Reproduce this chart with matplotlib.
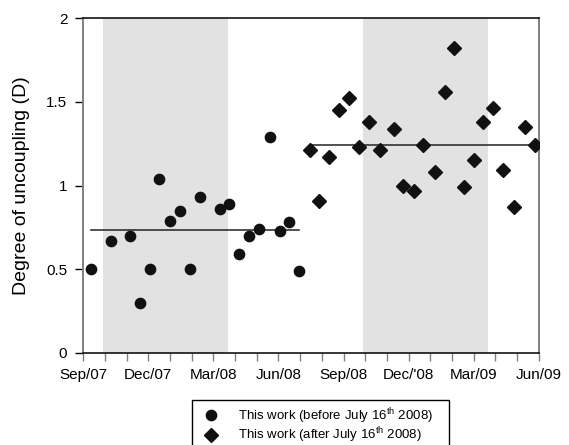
import matplotlib
matplotlib.use("Agg")
import matplotlib.pyplot as plt
from matplotlib.patches import Rectangle
from matplotlib.lines import Line2D

plt.rcParams['font.family'] = ['Liberation Sans', 'DejaVu Sans']
plt.rcParams['mathtext.fontset'] = 'custom'
plt.rcParams['mathtext.rm'] = 'Liberation Sans'

# time axis: months elapsed since 1 Sep 2007
month_ticks = list(range(22))
label_ticks = [0, 3, 6, 9, 12, 15, 18, 21]
month_labels = ["Sep/07", "Dec/07", "Mar/08", "Jun/08",
                "Sep/08", "Dec/'08", "Mar/09", "Jun/09"]

# degree of uncoupling before 16 July 2008
before_t = [0.34, 1.29, 2.15, 2.63, 3.09, 3.50, 4.01, 4.44, 4.90, 5.38,
            6.30, 6.72, 7.18, 7.65, 8.11, 8.59, 9.07, 9.48, 9.94]
before_d = [0.50, 0.67, 0.70, 0.30, 0.50, 1.04, 0.79, 0.85, 0.50, 0.93,
            0.86, 0.89, 0.59, 0.70, 0.74, 1.29, 0.73, 0.78, 0.49]

# degree of uncoupling after 16 July 2008
after_t = [10.45, 10.88, 11.33, 11.80, 12.26, 12.70, 13.16, 13.68, 14.32,
           14.74, 15.26, 15.68, 16.20, 16.66, 17.08, 17.54, 18.01, 18.43,
           18.89, 19.35, 19.84, 20.35, 20.83]
after_d = [1.21, 0.91, 1.17, 1.45, 1.52, 1.23, 1.38, 1.21, 1.34,
           1.00, 0.97, 1.24, 1.08, 1.56, 1.82, 0.99, 1.15, 1.38,
           1.46, 1.09, 0.87, 1.35, 1.24]

# period means
before_mean = 0.734
after_mean = 1.244

# shaded cold seasons (months since Sep 2007)
winter_spans = [(0.91, 6.65), (12.88, 18.64)]

W, H = 569, 445
fig = plt.figure(figsize=(W / 100, H / 100), dpi=100)
ax = fig.add_axes([83.3 / W, (H - 353) / H, (538.7 - 83.3) / W, (353 - 18) / H])

for a, b in winter_spans:
    ax.axvspan(a, b, color='#e2e2e2', lw=0, zorder=0)

ax.plot([before_t[0], before_t[-1]], [before_mean, before_mean],
        color='#222222', lw=1.1, zorder=2)
ax.plot([after_t[0], after_t[-1]], [after_mean, after_mean],
        color='#222222', lw=1.1, zorder=2)

ax.plot(before_t, before_d, 'o', ms=7.4, color='#111111', mec='#111111', zorder=3)
ax.plot(after_t, after_d, 'D', ms=6.8, color='#111111', mec='#111111', zorder=3)

ax.set_xlim(0, 21)
ax.set_ylim(0, 2)
ax.set_xticks(month_ticks)
ax.set_xticklabels([month_labels[label_ticks.index(m)] if m in label_ticks else ''
                    for m in month_ticks])
ax.set_yticks([0, 0.5, 1, 1.5, 2])
ax.set_yticklabels(['0', '0.5', '1', '1.5', '2'])

ax.tick_params(axis='x', direction='out', length=6, width=1, color='#808080',
               labelsize=11, pad=5)
ax.tick_params(axis='y', direction='out', length=6, width=1, color='black',
               labelsize=11, pad=5.5)

for side in ('left', 'right'):
    ax.spines[side].set_color('#808080')
    ax.spines[side].set_linewidth(1.4)
for side in ('top', 'bottom'):
    ax.spines[side].set_color('black')
    ax.spines[side].set_linewidth(1.1)

ax.set_ylabel('Degree of uncoupling (D)', fontsize=14, labelpad=12)

handles = [
    Line2D([], [], marker='o', ls='none', ms=7.4, color='#111111'),
    Line2D([], [], marker='D', ls='none', ms=6.8, color='#111111'),
]
labels = ['This work (before July 16$^{\\mathrm{th}}$ 2008)',
          'This work (after July 16$^{\\mathrm{th}}$ 2008)']
fig.legend(handles, labels, loc='upper left',
           bbox_to_anchor=(204.1 / W, 1 - 406 / H), bbox_transform=fig.transFigure,
           frameon=False, borderpad=0, borderaxespad=0, handlelength=1,
           handletextpad=1.59, labelspacing=0.0, fontsize=9.5)
fig.patches.append(Rectangle((191.7 / W, -0.05), (449.3 - 191.7) / W,
                             (1 - 400 / H) + 0.05, transform=fig.transFigure,
                             fill=False, ec='black', lw=1.0))

fig.savefig('out.png', dpi=100)
